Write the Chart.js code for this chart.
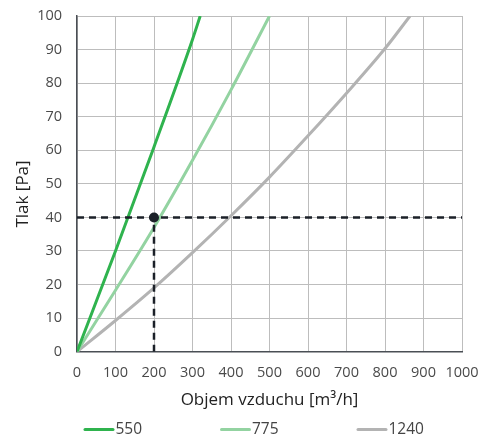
<!DOCTYPE html>
<html>
<head>
<meta charset="utf-8">
<script src="https://cdn.jsdelivr.net/npm/chart.js@4/dist/chart.umd.min.js"></script>
<style>
  html, body { margin: 0; padding: 0; background: #ffffff; }
  #wrap { width: 482px; height: 438px; }
</style>
</head>
<body>
<div id="wrap"><canvas id="c" width="482" height="438"></canvas></div>
<script>
// ---- data ----
const seriesNames = ['550', '775', '1240'];

const flow550 = [0, 100, 200, 300, 320];
const pressure550 = [0, 30, 61, 93, 100];

const flow775 = [0, 100, 200, 300, 400, 500];
const pressure775 = [0, 18.3, 37, 57, 78, 100];

const flow1240 = [0, 100, 200, 300, 400, 500, 600, 700, 800, 865];
const pressure1240 = [0, 9.3, 19, 29.5, 40.5, 52, 64.3, 77, 90.3, 100];

const opFlow = [200];
const opPressure = [40];

const xTicks = [0, 100, 200, 300, 400, 500, 600, 700, 800, 900, 1000];
const yTicks = [0, 10, 20, 30, 40, 50, 60, 70, 80, 90, 100];

const xTitle = 'Objem vzduchu [m\u00B3/h]';
const yTitle = 'Tlak [Pa]';

// ---- styles ----
const seriesColors = ['#2fb34e', '#93d3a1', '#b3b3b3'];
const guideColor = '#1b2028';

const toPts = (xs, ys) => xs.map((x, i) => ({ x: x, y: ys[i] }));

const curve = (i, xs, ys) => ({
  label: seriesNames[i],
  data: toPts(xs, ys),
  borderColor: seriesColors[i],
  backgroundColor: seriesColors[i],
  borderWidth: 3,
  pointRadius: 0,
  pointHoverRadius: 0,
  fill: false,
  tension: 0.4,
  cubicInterpolationMode: 'monotone'
});

const datasets = [
  {
    label: 'op',
    data: toPts(opFlow, opPressure),
    showLine: false,
    pointRadius: 5,
    pointBackgroundColor: guideColor,
    pointBorderColor: guideColor,
    pointBorderWidth: 0
  },
  {
    label: 'hguide',
    data: [{ x: xTicks[0], y: opPressure[0] }, { x: xTicks[xTicks.length - 1], y: opPressure[0] }],
    borderColor: guideColor,
    borderWidth: 2.5,
    borderDash: [7, 5],
    pointRadius: 0,
    fill: false
  },
  {
    label: 'vguide',
    data: [{ x: opFlow[0], y: yTicks[0] }, { x: opFlow[0], y: opPressure[0] }],
    borderColor: guideColor,
    borderWidth: 2.5,
    borderDash: [7, 5],
    pointRadius: 0,
    fill: false
  },
  curve(0, flow550, pressure550),
  curve(1, flow775, pressure775),
  curve(2, flow1240, pressure1240)
];

const extras = {
  id: 'extras',
  afterDraw(chart) {
    const ctx = chart.ctx;
    // y axis title
    ctx.save();
    ctx.translate(23.5, 194);
    ctx.rotate(-Math.PI / 2);
    ctx.font = '17px "Open Sans"';
    ctx.fillStyle = '#222222';
    ctx.textAlign = 'center';
    ctx.textBaseline = 'middle';
    ctx.fillText(yTitle, 0, 0);
    ctx.restore();

    // legend
    ctx.save();
    ctx.font = '15.5px "Open Sans"';
    ctx.textAlign = 'left';
    ctx.textBaseline = 'middle';
    const y = 429.5;
    seriesNames.forEach((name, i) => {
      const x0 = 84 + i * 136.5;
      ctx.strokeStyle = seriesColors[i];
      ctx.lineWidth = 3;
      ctx.lineCap = 'round';
      ctx.beginPath();
      ctx.moveTo(x0 + 1, y);
      ctx.lineTo(x0 + 29, y);
      ctx.stroke();
      ctx.fillStyle = '#444444';
      ctx.fillText(name, x0 + 31.5, y);
    });
    ctx.restore();
  }
};

new Chart(document.getElementById('c'), {
  type: 'line',
  data: { datasets: datasets },
  plugins: [extras],
  options: {
    responsive: false,
    animation: false,
    devicePixelRatio: 1,
    layout: { padding: { left: 0, right: 20, top: 16, bottom: 26.3 } },
    plugins: {
      legend: { display: false },
      tooltip: { enabled: false }
    },
    scales: {
      x: {
        type: 'linear',
        min: xTicks[0],
        max: xTicks[xTicks.length - 1],
        afterBuildTicks: (s) => { s.ticks = xTicks.map(v => ({ value: v })); },
        afterFit: (s) => { s.height = 60; s.paddingLeft = 0; s.paddingRight = 0; },
        grid: { color: '#bdbdbd', lineWidth: 1, drawTicks: false },
        border: { color: '#4a4f55', width: 1.5 },
        ticks: {
          padding: 12,
          maxRotation: 0,
          autoSkip: false,
          color: '#4a4a4a',
          font: { family: '"Open Sans"', size: 14.5 },
          callback: (v) => String(v)
        },
        title: {
          display: true,
          text: xTitle,
          color: '#222222',
          font: { family: '"Open Sans"', size: 17 },
          padding: { top: 0, bottom: 1.5 }
        }
      },
      y: {
        type: 'linear',
        min: yTicks[0],
        max: yTicks[yTicks.length - 1],
        afterBuildTicks: (s) => { s.ticks = yTicks.map(v => ({ value: v })); },
        afterFit: (s) => { s.width = 77; s.paddingTop = 0; s.paddingBottom = 0; },
        grid: { color: '#bdbdbd', lineWidth: 1, drawTicks: false },
        border: { color: '#4a4f55', width: 1.5 },
        ticks: {
          padding: 15,
          autoSkip: false,
          color: '#4a4a4a',
          font: { family: '"Open Sans"', size: 14.5 },
          callback: (v) => String(v)
        }
      }
    }
  }
});
</script>
</body>
</html>
